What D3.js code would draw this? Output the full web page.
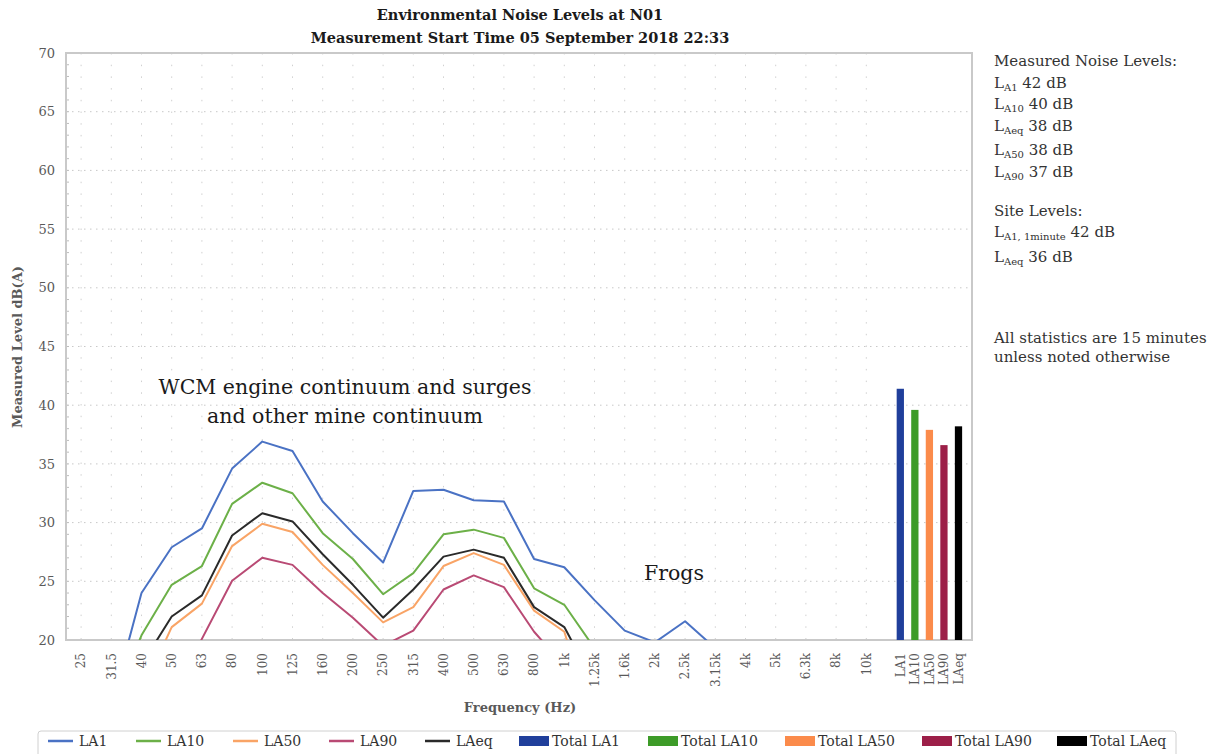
<!DOCTYPE html>
<html>
<head>
<meta charset="utf-8">
<script src="https://cdn.jsdelivr.net/npm/d3@7"></script>
<style>
  body { margin: 0; background: #fff; }
  svg { font-family: "DejaVu Serif", serif; }
</style>
</head>
<body>
<script>
// values
const freqs = ['25', '31.5', '40', '50', '63', '80', '100', '125', '160', '200', '250', '315', '400', '500', '630', '800', '1k', '1.25k', '1.6k', '2k', '2.5k', '3.15k', '4k', '5k', '6.3k', '8k', '10k'];

const LA1  = [13, 14.4, 24.0, 27.9, 29.5, 34.6, 36.9, 36.1, 31.8, 29.1, 26.6, 32.7, 32.8, 31.9, 31.8, 26.9, 26.2, 23.4, 20.8, 19.8, 21.6, 19.3, 18.2, 17.5, 16.8, 15.9, 15.2];
const LA10 = [12, 14, 20.4, 24.7, 26.3, 31.6, 33.4, 32.5, 29.1, 26.9, 23.9, 25.7, 29.0, 29.4, 28.7, 24.4, 23.0, 19.3, 17.5, 16.5, 16.8, 16.2, 15.5, 14.8, 14.0, 13.2, 12.5];
const LA50 = [10, 12, 15.5, 21.1, 23.1, 28.0, 29.9, 29.2, 26.4, 24.0, 21.5, 22.8, 26.3, 27.4, 26.4, 22.5, 20.7, 12.5, 11.8, 11, 11.5, 11, 10.5, 10, 9.8, 9.5, 9.2];
const LA90 = [9, 10.5, 12, 15, 20.1, 25.05, 27.0, 26.4, 24.0, 21.9, 19.5, 20.8, 24.3, 25.5, 24.5, 20.7, 17.8, 12, 10.5, 10, 10, 9.5, 9, 8.7, 8.5, 8.2, 8];
const LAeq = [11, 13, 17.9, 22.0, 23.8, 28.9, 30.8, 30.1, 27.3, 24.7, 21.9, 24.3, 27.1, 27.7, 27.0, 22.8, 21.1, 16.3, 14.5, 14.0, 14.8, 14.0, 13.2, 12.5, 12.0, 11.5, 11.0];

const totalLabels = ['LA1', 'LA10', 'LA50', 'LA90', 'LAeq'];
const totalValues = [41.4, 39.6, 37.9, 36.6, 38.2];

const yTicks = [20, 25, 30, 35, 40, 45, 50, 55, 60, 65, 70];

const measuredLevels = [['A1', '42 dB'], ['A10', '40 dB'], ['Aeq', '38 dB'], ['A50', '38 dB'], ['A90', '37 dB']];
const siteLevels = [['A1, 1minute', '42 dB'], ['Aeq', '36 dB']];

const series = [
    { name: 'LA1', values: LA1, color: '#4a72c4' },
    { name: 'LA10', values: LA10, color: '#6cb048' },
    { name: 'LA50', values: LA50, color: '#f9a466' },
    { name: 'LA90', values: LA90, color: '#b94a74' },
    { name: 'LAeq', values: LAeq, color: '#2a2a2a' }
];
const barColors = ['#203f9b', '#3d9b28', '#fb8b4b', '#9c1f48', '#000000'];

const margin = { top: 53, left: 66 };
const width = 906;
const height = 587;
const step = width / 30;

const svg = d3.select('body').append('svg')
    .attr('width', 1216)
    .attr('height', 754);

const g = svg.append('g')
    .attr('transform', `translate(${margin.left}, ${margin.top})`);

const x = d3.scaleBand()
    .domain(freqs)
    .range([0, 27 * step]);

const xBar = d3.scaleBand()
    .domain(totalLabels)
    .range([27 * step + 8, 27 * step + 88])
    .padding(0.5);

const y = d3.scaleLinear()
    .domain([20, 70])
    .range([height, 0]);

const cx = d => x(d) + x.bandwidth() / 2;

// grid
g.selectAll('.hgrid')
    .data(yTicks.filter(d => d > 20 && d < 70))
    .enter().append('line')
    .attr('x1', 0).attr('x2', width)
    .attr('y1', d => y(d)).attr('y2', d => y(d))
    .attr('stroke', '#c8c8c8')
    .attr('stroke-width', 1)
    .attr('stroke-dasharray', '1.5,4.5');

g.selectAll('.vgrid')
    .data(freqs)
    .enter().append('line')
    .attr('x1', cx).attr('x2', cx)
    .attr('y1', 0).attr('y2', height)
    .attr('stroke', '#d0d0d0')
    .attr('stroke-width', 1)
    .attr('stroke-dasharray', '1.5,10.2');

// minor ticks on the left axis
g.selectAll('.minor')
    .data(d3.range(21, 70))
    .enter().append('line')
    .attr('x1', 0).attr('x2', 3)
    .attr('y1', d => y(d)).attr('y2', d => y(d))
    .attr('stroke', '#bdbdbd');

// frame
g.append('rect')
    .attr('width', width)
    .attr('height', height)
    .attr('fill', 'none')
    .attr('stroke', '#c9c9c9')
    .attr('stroke-width', 2);

// y axis labels
g.append('g')
    .call(d3.axisLeft(y).tickValues(yTicks).tickSize(0).tickPadding(11))
    .call(a => a.select('.domain').remove())
    .selectAll('text')
    .attr('font-family', '"DejaVu Serif", serif')
    .attr('font-size', 13)
    .attr('fill', '#595959');

// x axis labels (rotated)
const xAxis = g.append('g')
    .attr('transform', `translate(0, ${height})`)
    .call(d3.axisBottom(x).tickSize(0));
xAxis.select('.domain').remove();
xAxis.selectAll('text')
    .attr('font-family', '"DejaVu Serif", serif')
    .attr('font-size', 12)
    .attr('fill', '#595959')
    .attr('transform', 'rotate(-90)')
    .attr('text-anchor', 'end')
    .attr('x', -13)
    .attr('y', 0)
    .attr('dy', '0.35em');

const xBarAxis = g.append('g')
    .attr('transform', `translate(0, ${height})`)
    .call(d3.axisBottom(xBar).tickSize(0));
xBarAxis.select('.domain').remove();
xBarAxis.selectAll('text')
    .attr('font-family', '"DejaVu Serif", serif')
    .attr('font-size', 12)
    .attr('fill', '#595959')
    .attr('transform', 'rotate(-90)')
    .attr('text-anchor', 'end')
    .attr('x', -13)
    .attr('y', 0)
    .attr('dy', '0.35em');

// lines
g.append('clipPath')
    .attr('id', 'plot-clip')
    .append('rect')
    .attr('width', width)
    .attr('height', height);

const line = d3.line()
    .x((d, i) => cx(freqs[i]))
    .y(d => y(d));

g.append('g')
    .attr('clip-path', 'url(#plot-clip)')
    .selectAll('path')
    .data(series)
    .enter().append('path')
    .attr('fill', 'none')
    .attr('stroke', d => d.color)
    .attr('stroke-width', 2)
    .attr('stroke-linejoin', 'round')
    .attr('d', d => line(d.values));

// total bars
g.selectAll('.bar')
    .data(totalValues)
    .enter().append('rect')
    .attr('x', (d, i) => xBar(totalLabels[i]))
    .attr('y', d => y(d))
    .attr('width', xBar.bandwidth())
    .attr('height', d => height - y(d))
    .attr('fill', (d, i) => barColors[i]);

// titles
svg.append('text')
    .attr('x', 520).attr('y', 20)
    .attr('text-anchor', 'middle')
    .attr('font-weight', 'bold')
    .attr('font-size', 14.5)
    .attr('fill', '#1a1a1a')
    .text('Environmental Noise Levels at N01');
svg.append('text')
    .attr('x', 520).attr('y', 43)
    .attr('text-anchor', 'middle')
    .attr('font-weight', 'bold')
    .attr('font-size', 14.5)
    .attr('fill', '#1a1a1a')
    .text('Measurement Start Time 05 September 2018 22:33');

svg.append('text')
    .attr('transform', 'translate(22, 347) rotate(-90)')
    .attr('text-anchor', 'middle')
    .attr('font-weight', 'bold')
    .attr('font-size', 13)
    .attr('fill', '#595959')
    .text('Measured Level dB(A)');

svg.append('text')
    .attr('x', 520).attr('y', 712)
    .attr('text-anchor', 'middle')
    .attr('font-weight', 'bold')
    .attr('font-size', 13)
    .attr('fill', '#595959')
    .text('Frequency (Hz)');

// annotations
svg.append('text')
    .attr('x', 345).attr('y', 394)
    .attr('text-anchor', 'middle')
    .attr('font-size', 20.5)
    .attr('fill', '#1a1a1a')
    .text('WCM engine continuum and surges');
svg.append('text')
    .attr('x', 345).attr('y', 423)
    .attr('text-anchor', 'middle')
    .attr('font-size', 20.5)
    .attr('fill', '#1a1a1a')
    .text('and other mine continuum');
svg.append('text')
    .attr('x', 674).attr('y', 580)
    .attr('text-anchor', 'middle')
    .attr('font-size', 20.5)
    .attr('fill', '#1a1a1a')
    .text('Frogs');

// side notes
const notes = svg.append('g')
    .attr('font-size', 15)
    .attr('fill', '#333');

notes.append('text').attr('x', 994).attr('y', 66).text('Measured Noise Levels:');

const addLevel = (row, yPos) => {
    const t = notes.append('text').attr('x', 994).attr('y', yPos);
    t.append('tspan').text('L');
    t.append('tspan').attr('font-size', 10).attr('dy', 3).text(row[0]);
    t.append('tspan').attr('dy', -3).text(' ' + row[1]);
};
[88, 109, 131, 155, 177].forEach((yy, i) => addLevel(measuredLevels[i], yy));

notes.append('text').attr('x', 994).attr('y', 216).text('Site Levels:');
[237, 262].forEach((yy, i) => addLevel(siteLevels[i], yy));

notes.append('text').attr('x', 994).attr('y', 343).text('All statistics are 15 minutes');
notes.append('text').attr('x', 994).attr('y', 362).text('unless noted otherwise');

// legend
const legend = svg.append('g');
legend.append('rect')
    .attr('x', 38).attr('y', 731)
    .attr('width', 1138).attr('height', 34)
    .attr('rx', 3)
    .attr('fill', '#fff')
    .attr('stroke', '#d0d0d0');

const lineLegendX = [48, 136, 233, 329, 425];
series.forEach((s, i) => {
    legend.append('line')
        .attr('x1', lineLegendX[i]).attr('x2', lineLegendX[i] + 25)
        .attr('y1', 741).attr('y2', 741)
        .attr('stroke', s.color)
        .attr('stroke-width', 2.5);
    legend.append('text')
        .attr('x', lineLegendX[i] + 31).attr('y', 746)
        .attr('font-size', 14)
        .attr('fill', '#333')
        .text(s.name);
});

const barLegendX = [519, 648, 785, 922, 1057];
totalLabels.forEach((name, i) => {
    legend.append('rect')
        .attr('x', barLegendX[i]).attr('y', 736)
        .attr('width', 30).attr('height', 10)
        .attr('fill', barColors[i]);
    legend.append('text')
        .attr('x', barLegendX[i] + 33).attr('y', 746)
        .attr('font-size', 14)
        .attr('fill', '#333')
        .text('Total ' + name);
});
</script>
</body>
</html>
